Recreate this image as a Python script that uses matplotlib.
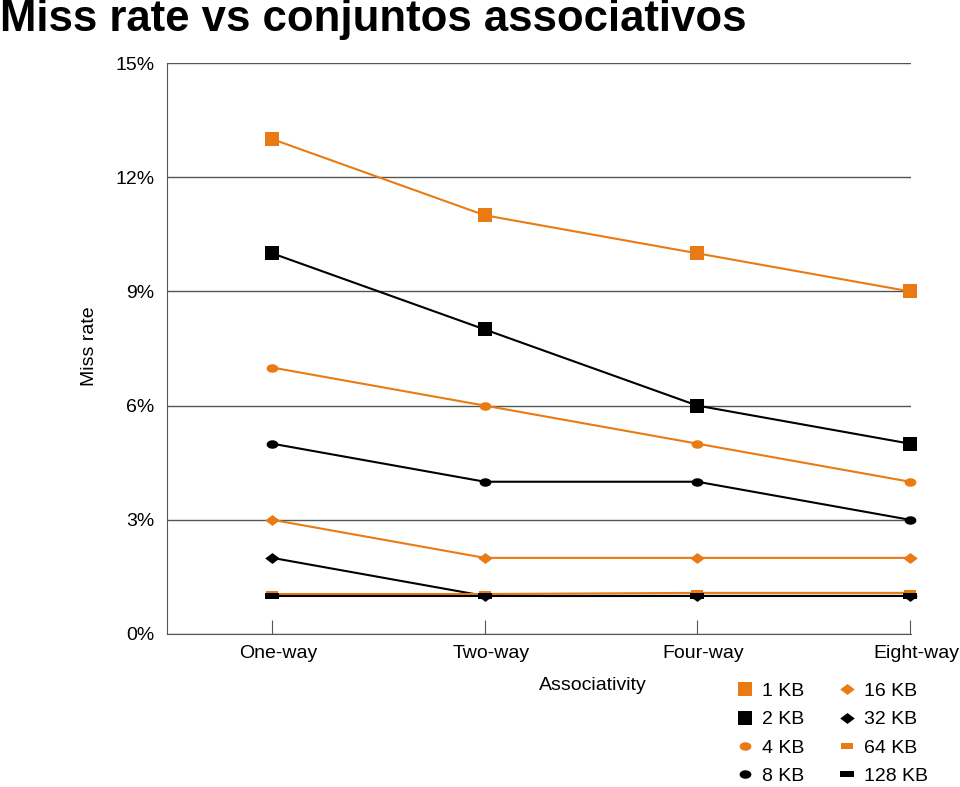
import numpy as np
import matplotlib
matplotlib.use("Agg")
from matplotlib import pyplot as plt
from matplotlib.ticker import FuncFormatter
from matplotlib.transforms import ScaledTranslation

plt.rcParams['font.family'] = ['Liberation Sans', 'DejaVu Sans']

# data
categories = ["One-way", "Two-way", "Four-way", "Eight-way"]
kb_1 = [13, 11, 10, 9]
kb_2 = [10, 8, 6, 5]
kb_4 = [7, 6, 5, 4]
kb_8 = [5, 4, 4, 3]
kb_16 = [3, 2, 2, 2]
kb_32 = [2, 1, 1, 1]
kb_64 = [1.05, 1.05, 1.08, 1.08]
kb_128 = [1.0, 1.0, 1.0, 1.0]
labels = ["1 KB", "2 KB", "4 KB", "8 KB", "16 KB", "32 KB", "64 KB", "128 KB"]

orange = '#E97A14'
black = '#000000'

wide_rect = [(-1, -0.5), (1, -0.5), (1, 0.5), (-1, 0.5)]
flat_rect = [(-1, -0.38), (1, -0.38), (1, 0.38), (-1, 0.38)]
wide_diamond = [(-1, 0), (0, -0.75), (1, 0), (0, 0.75)]
ellipse = [(np.cos(t), 0.72 * np.sin(t)) for t in np.linspace(0, 2 * np.pi, 30)]

series = [
    (kb_1, orange, 's', 10.5),
    (kb_2, black, 's', 10.5),
    (kb_4, orange, ellipse, 8.5),
    (kb_8, black, ellipse, 8.5),
    (kb_16, orange, wide_diamond, 10.5),
    (kb_32, black, wide_diamond, 10.5),
    (kb_64, orange, wide_rect, 9),
    (kb_128, black, flat_rect, 10),
]

fig = plt.figure(figsize=(9.6, 7.87), dpi=100)
ax = fig.add_axes([167 / 960, 1 - 634 / 787, (911 - 167) / 960, (634 - 63) / 787])

x = np.arange(len(categories))
handles = []
for (vals, col, mk, ms), lab in zip(series, labels):
    h, = ax.plot(x, vals, color=col, lw=1.5, marker=mk, markersize=ms,
                 markeredgewidth=0, label=lab, clip_on=False, zorder=3)
    handles.append(h)

ax.set_ylim(0, 15)
ax.set_yticks([0, 3, 6, 9, 12, 15])
ax.yaxis.set_major_formatter(FuncFormatter(lambda v, p: "%d%%" % v))
ax.set_xlim(-0.495, 3.005)
ax.set_xticks(x)
ax.set_xticklabels(categories)

ax.grid(axis='y', color='#555555', lw=1)
ax.set_axisbelow(True)
for s in ['top', 'right']:
    ax.spines[s].set_visible(False)
ax.spines['left'].set_color('#555555')
ax.spines['bottom'].set_color('#555555')
ax.tick_params(axis='y', length=0, pad=9, labelsize=14)
ax.tick_params(axis='x', direction='in', length=10, color='#555555', pad=8, labelsize=14)

# labels in the reference sit a few pixels right of their ticks
shift = ScaledTranslation(0.06, 0, fig.dpi_scale_trans)
for t in ax.get_xticklabels():
    t.set_transform(t.get_transform() + shift)

fig.text(593 / 960, 1 - 686 / 787, "Associativity", ha='center', va='center', fontsize=14)
fig.text(90 / 960, 1 - 346 / 787, "Miss rate", rotation=90, ha='center', va='center', fontsize=14)

fig.text(0.0, 1 - 19 / 787, "Miss rate vs conjuntos associativos",
         family=['Liberation Sans Narrow', 'Liberation Sans', 'DejaVu Sans'],
         fontweight='bold', fontsize=31.5, ha='left', va='center')

leg = fig.legend(handles=handles, ncol=2, loc='upper left',
                 bbox_to_anchor=(718 / 960, 1 - 665 / 787), frameon=False,
                 fontsize=14, handlelength=1.0, handletextpad=0.37,
                 columnspacing=1.7, labelspacing=0.55, numpoints=1)
for line in leg.get_lines():
    line.set_linestyle('None')

fig.savefig("out.png", dpi=100)
